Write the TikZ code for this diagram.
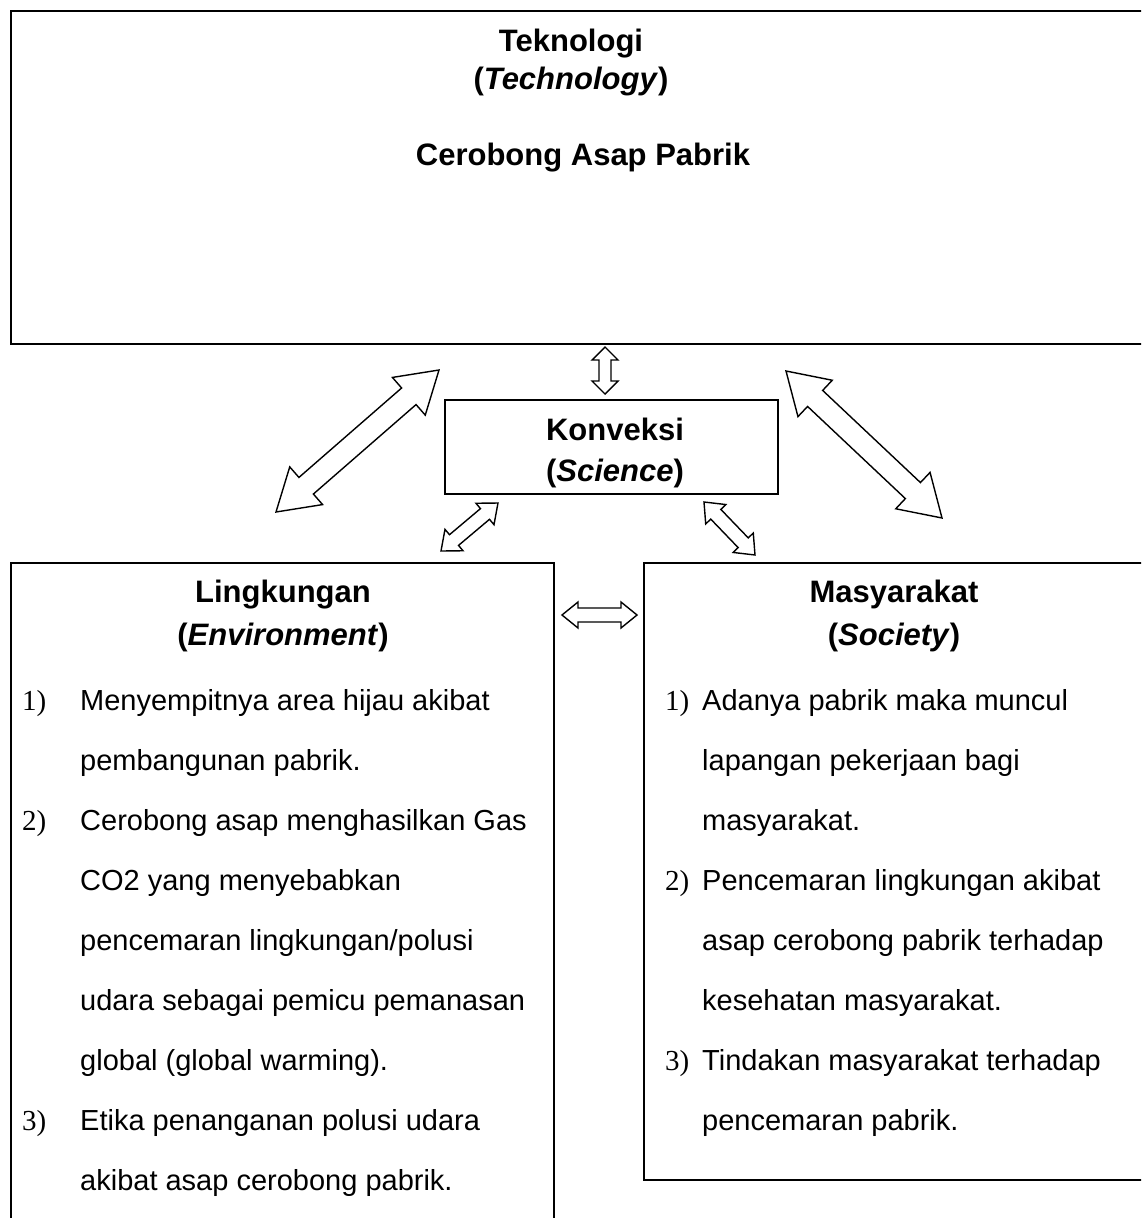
\documentclass[tikz,border=0pt]{standalone}
\usepackage{fontspec}
\setmainfont{Liberation Sans}
\newfontfamily\numfont{Liberation Serif}
\usetikzlibrary{calc}

% hollow double-headed block arrow between two named points:
% #1,#2 end points; #3 half shaft width; #4 half head width; #5 head length (pt)
\newcommand\hollowarrow[5]{%
  \path let \p1=($(#2)-(#1)$) in \pgfextra{%
    \pgfmathsetmacro\arrang{atan2(\y1,\x1)}%
    \pgfmathsetmacro\arrlen{veclen(\x1,\y1)}%
    \global\let\arrang\arrang\global\let\arrlen\arrlen};
  \begin{scope}[shift={(#1)}, rotate=\arrang]
    \draw[arrowline] (0pt,0pt) -- (#5pt,#4pt) -- (#5pt,#3pt)
      -- ({\arrlen pt-#5pt},#3pt) -- ({\arrlen pt-#5pt},#4pt)
      -- (\arrlen pt,0pt)
      -- ({\arrlen pt-#5pt},-#4pt) -- ({\arrlen pt-#5pt},-#3pt)
      -- (#5pt,-#3pt) -- (#5pt,-#4pt) -- cycle;
  \end{scope}}

\tikzset{
  box/.style={draw, line width=2pt, fill=white, inner sep=0pt, anchor=north west},
  arrowline/.style={draw, line width=1.4pt, fill=white, line join=miter},
  head/.style={font=\fontsize{31}{37}\selectfont\bfseries, anchor=base, inner sep=0pt},
  body/.style={font=\fontsize{29}{35}\selectfont, anchor=base west, inner sep=0pt},
  num/.style={font=\fontsize{29}{35}\selectfont\numfont, anchor=base west, inner sep=0pt},
}

\begin{document}
\begin{tikzpicture}[x=1pt, y=-1pt]
\clip (0,0) rectangle (1141,1218);
\fill[white] (0,0) rectangle (1141,1218);

% boxes
\node[box, minimum width=1200pt, minimum height=333pt] (tech) at (10,10) {};
\node[box, minimum width=333pt, minimum height=94pt] (sci) at (444,399) {};
\node[box, minimum width=543pt, minimum height=700pt] (env) at (10,562) {};
\node[box, minimum width=560pt, minimum height=617pt] (soc) at (643,562) {};

% Technology
\node[head] (t1) at (571,51) {Teknologi};
\node[head] (t2) at (571,89) {(\textit{Technology})};
\node[head] (t3) at (583,165) {Cerobong Asap Pabrik};

% Science
\node[head] (s1) at (615,440) {Konveksi};
\node[head] (s2) at (615,481) {(\textit{Science})};

% Environment
\node[head] (e1) at (283,602) {Lingkungan};
\node[head] (e2) at (283,645) {(\textit{Environment})};
\node[num] (en1) at (22,710) {1)};
\node[body] (ea1) at (80,710) {Menyempitnya area hijau akibat};
\node[body] (ea2) at (80,770) {pembangunan pabrik.};
\node[num] (en2) at (22,830) {2)};
\node[body] (eb1) at (80,830) {Cerobong asap menghasilkan Gas};
\node[body] (eb2) at (80,890) {CO2 yang menyebabkan};
\node[body] (eb3) at (80,950) {pencemaran lingkungan/polusi};
\node[body] (eb4) at (80,1010) {udara sebagai pemicu pemanasan};
\node[body] (eb5) at (80,1070) {global (global warming).};
\node[num] (en3) at (22,1130) {3)};
\node[body] (ec1) at (80,1130) {Etika penanganan polusi udara};
\node[body] (ec2) at (80,1190) {akibat asap cerobong pabrik.};

% Society
\node[head] (m1) at (894,602) {Masyarakat};
\node[head] (m2) at (894,645) {(\textit{Society})};
\node[num] (mn1) at (665,710) {1)};
\node[body] (ma1) at (702,710) {Adanya pabrik maka muncul};
\node[body] (ma2) at (702,770) {lapangan pekerjaan bagi};
\node[body] (ma3) at (702,830) {masyarakat.};
\node[num] (mn2) at (665,890) {2)};
\node[body] (mb1) at (702,890) {Pencemaran lingkungan akibat};
\node[body] (mb2) at (702,950) {asap cerobong pabrik terhadap};
\node[body] (mb3) at (702,1010) {kesehatan masyarakat.};
\node[num] (mn3) at (665,1070) {3)};
\node[body] (mc1) at (702,1070) {Tindakan masyarakat terhadap};
\node[body] (mc2) at (702,1130) {pencemaran pabrik.};

% arrow end points
\coordinate (ts) at (605,347);  \coordinate (st) at (605,394);
\coordinate (tl) at (439,370);  \coordinate (lt) at (276,512);
\coordinate (tr) at (786,371);  \coordinate (rt) at (942,518);
\coordinate (sl) at (498,503);  \coordinate (ls) at (441,551);
\coordinate (sr) at (704,502);  \coordinate (rs) at (755,555);
\coordinate (el) at (562,615);  \coordinate (er) at (637,615);

\hollowarrow{ts}{st}{6}{13}{13}
\hollowarrow{lt}{tl}{11}{25}{40}
\hollowarrow{tr}{rt}{11}{25}{40}
\hollowarrow{ls}{sl}{7}{14}{17}
\hollowarrow{sr}{rs}{7}{14}{17}
\hollowarrow{el}{er}{7}{13}{16}
\end{tikzpicture}
\end{document}
